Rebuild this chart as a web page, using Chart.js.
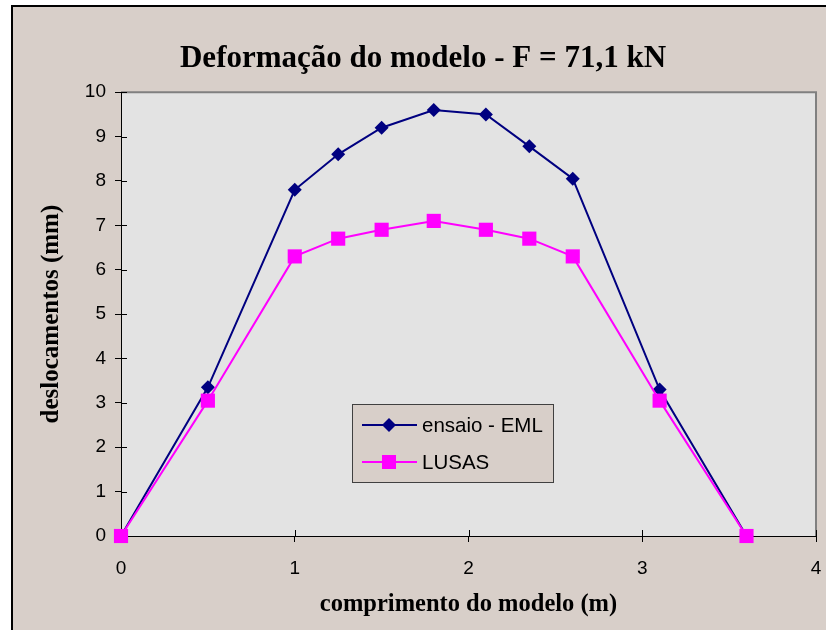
<!DOCTYPE html>
<html>
<head>
<meta charset="utf-8">
<script src="https://cdn.jsdelivr.net/npm/chart.js@4"></script>
<style>
  html, body { margin: 0; padding: 0; background: #fff; }
  #wrap { width: 826px; height: 630px; }
</style>
</head>
<body>
<div id="wrap"><canvas id="chart" width="826" height="630"></canvas></div>
<script>
// posicoes ao longo do modelo (m)
const posicoes = [0, 0.5, 1.0, 1.25, 1.5, 1.8, 2.1, 2.35, 2.6, 3.1, 3.6];
// deslocamentos medidos (mm)
const ensaioEML = [0, 3.35, 7.8, 8.6, 9.2, 9.6, 9.5, 8.78, 8.05, 3.3, 0];
// deslocamentos do modelo numerico (mm)
const lusas = [0, 3.05, 6.3, 6.7, 6.9, 7.1, 6.9, 6.7, 6.3, 3.05, 0];

const seriesLabels = ["ensaio - EML", "LUSAS"];
const titulo = "Deformação do modelo - F = 71,1 kN";
const tituloX = "comprimento do modelo (m)";
const tituloY = "deslocamentos (mm)";

const BG = "#d8cfc9";
const PLOT_BG = "#e3e3e3";

function toPoints(ys) {
  return posicoes.map((x, i) => ({ x: x, y: ys[i] }));
}

// fundo, moldura e marcas de escala
const framePlugin = {
  id: "frame",
  beforeDraw(chart) {
    const ctx = chart.ctx;
    const a = chart.chartArea;
    ctx.save();
    ctx.fillStyle = "#fff";
    ctx.fillRect(0, 0, chart.width, chart.height);
    ctx.fillStyle = BG;
    ctx.fillRect(12, 6, chart.width - 12, chart.height - 6);
    ctx.strokeStyle = "#000";
    ctx.lineWidth = 2;
    ctx.beginPath();
    ctx.moveTo(12, chart.height);
    ctx.lineTo(12, 6);
    ctx.lineTo(chart.width, 6);
    ctx.stroke();
    ctx.fillStyle = PLOT_BG;
    ctx.fillRect(a.left, a.top, a.right - a.left, a.bottom - a.top);
    ctx.strokeStyle = "#808080";
    ctx.lineWidth = 2;
    ctx.beginPath();
    ctx.moveTo(a.left, a.top);
    ctx.lineTo(a.right, a.top);
    ctx.lineTo(a.right, a.bottom);
    ctx.stroke();
    ctx.restore();
  },
  beforeDatasetsDraw(chart) {
    const ctx = chart.ctx;
    const a = chart.chartArea;
    const xs = chart.scales.x, ys = chart.scales.y;
    ctx.save();
    ctx.strokeStyle = "#000";
    ctx.lineWidth = 1;
    ctx.beginPath();
    xs.ticks.forEach(t => {
      const px = Math.round(xs.getPixelForValue(t.value)) + 0.5;
      ctx.moveTo(px, a.bottom);
      ctx.lineTo(px, a.bottom - 6);
    });
    ys.ticks.forEach(t => {
      const py = Math.round(ys.getPixelForValue(t.value)) + 0.5;
      ctx.moveTo(a.left, py);
      ctx.lineTo(a.left + 6, py);
    });
    ctx.stroke();
    ctx.restore();
  },
  afterDraw(chart) {
    // legenda
    const ctx = chart.ctx;
    const box = { x: 352, y: 404, w: 201, h: 78 };
    ctx.save();
    ctx.fillStyle = BG;
    ctx.fillRect(box.x, box.y, box.w, box.h);
    ctx.strokeStyle = "#404040";
    ctx.lineWidth = 1;
    ctx.strokeRect(box.x + 0.5, box.y + 0.5, box.w, box.h);
    ctx.font = "20.5px 'Liberation Sans', Arial, sans-serif";
    ctx.textBaseline = "middle";
    chart.data.datasets.forEach((ds, i) => {
      const cy = box.y + 21 + i * 37;
      ctx.strokeStyle = ds.borderColor;
      ctx.lineWidth = 2;
      ctx.beginPath();
      ctx.moveTo(box.x + 10, cy);
      ctx.lineTo(box.x + 65, cy);
      ctx.stroke();
      ctx.fillStyle = ds.backgroundColor;
      ctx.beginPath();
      if (ds.pointStyle === "rectRot") {
        ctx.moveTo(box.x + 37, cy - 7);
        ctx.lineTo(box.x + 44, cy);
        ctx.lineTo(box.x + 37, cy + 7);
        ctx.lineTo(box.x + 30, cy);
        ctx.closePath();
      } else {
        ctx.rect(box.x + 30, cy - 7, 14, 14);
      }
      ctx.fill();
      ctx.fillStyle = "#000";
      ctx.fillText(ds.label, box.x + 70, cy + 1);
    });
    ctx.restore();
  }
};

new Chart(document.getElementById("chart"), {
  type: "scatter",
  data: {
    datasets: [
      {
        label: seriesLabels[0],
        data: toPoints(ensaioEML),
        showLine: true,
        borderColor: "#000080",
        backgroundColor: "#000080",
        borderWidth: 2,
        pointStyle: "rectRot",
        pointRadius: 7,
        pointBorderWidth: 0,
        clip: false,
        order: 2
      },
      {
        label: seriesLabels[1],
        data: toPoints(lusas),
        showLine: true,
        borderColor: "#ff00ff",
        backgroundColor: "#ff00ff",
        borderWidth: 2,
        pointStyle: "rect",
        pointRadius: 10,
        pointBorderWidth: 0,
        clip: false,
        order: 1
      }
    ]
  },
  options: {
    responsive: false,
    animation: false,
    layout: { padding: { left: 20, right: 0, top: 0, bottom: 0 } },
    plugins: {
      legend: { display: false },
      tooltip: { enabled: false },
      title: {
        display: true,
        text: titulo,
        color: "#000",
        font: { family: "'Liberation Serif', 'Times New Roman', serif", size: 31, weight: "bold" },
        padding: { top: 40, bottom: 15 }
      }
    },
    scales: {
      x: {
        type: "linear",
        min: 0,
        max: 4,
        ticks: {
          stepSize: 1,
          color: "#000",
          padding: 15,
          maxRotation: 0,
          font: { family: "'Liberation Sans', Arial, sans-serif", size: 19 }
        },
        grid: { drawOnChartArea: false, tickLength: 6, color: "#000" },
        border: { color: "#000", width: 1 },
        title: {
          display: true,
          text: tituloX,
          color: "#000",
          font: { family: "'Liberation Serif', 'Times New Roman', serif", size: 24.5, weight: "bold" },
          padding: { top: 0, bottom: 11 }
        },
        afterFit(scale) {
          scale.height = 94;
          scale.paddingLeft = 0;
          scale.paddingRight = 7;
        }
      },
      y: {
        type: "linear",
        min: 0,
        max: 10,
        ticks: {
          stepSize: 1,
          color: "#000",
          padding: 9,
          font: { family: "'Liberation Sans', Arial, sans-serif", size: 19 }
        },
        grid: { drawOnChartArea: false, tickLength: 6, color: "#000" },
        border: { color: "#000", width: 1 },
        title: {
          display: true,
          text: tituloY,
          color: "#000",
          font: { family: "'Liberation Serif', 'Times New Roman', serif", size: 25, weight: "bold" },
          padding: { top: 17, bottom: 0 }
        },
        afterFit(scale) { scale.width = 101; }
      }
    }
  },
  plugins: [framePlugin]
});
</script>
</body>
</html>
